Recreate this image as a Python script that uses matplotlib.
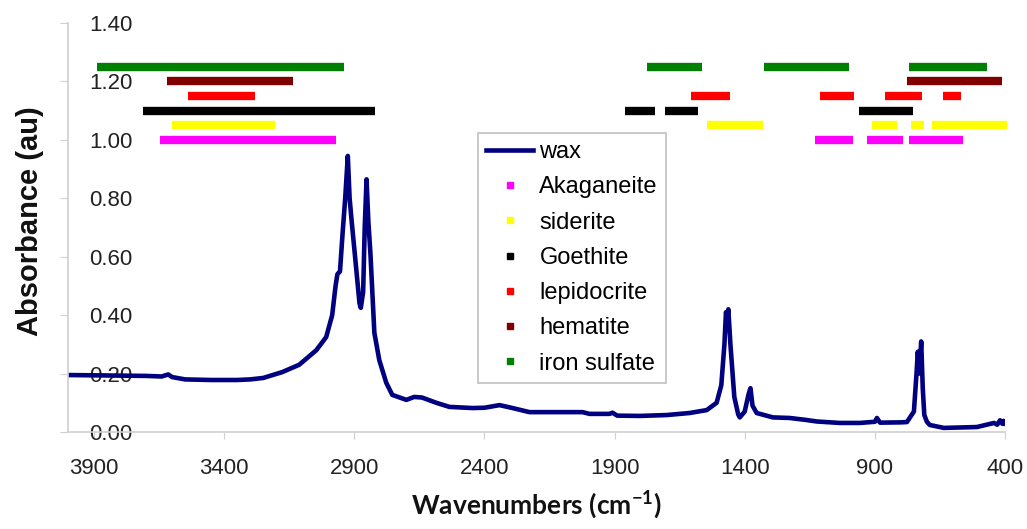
import matplotlib.pyplot as plt
from matplotlib.lines import Line2D
import numpy as np

plt.rcParams['font.family'] = ['Liberation Sans', 'DejaVu Sans']
plt.rcParams['mathtext.fontset'] = 'custom'
plt.rcParams['mathtext.rm'] = 'Lato'
plt.rcParams['mathtext.bf'] = 'Lato:bold'

# wax spectrum (wavenumber, absorbance)
wax_wn = [4000, 3800, 3700, 3640, 3615, 3600, 3550, 3450, 3350, 3300, 3250,
          3177, 3112, 3046, 3008, 2985, 2972, 2965, 2955, 2945, 2935, 2925,
          2918, 2910, 2896, 2880, 2875, 2866, 2860, 2853, 2846, 2838, 2823,
          2804, 2777, 2754, 2700, 2670, 2640, 2585, 2535, 2446, 2400, 2342,
          2292, 2227, 2100, 2023, 1996, 1920, 1908, 1890, 1804, 1700, 1612,
          1546, 1508, 1490, 1478, 1472, 1468, 1463, 1455, 1440, 1425, 1419,
          1400, 1385, 1378, 1370, 1354, 1292, 1227, 1162, 1123, 1035, 958,
          900, 892, 880, 800, 777, 750, 740, 735, 729, 722, 716, 710, 700,
          689, 635, 508, 442, 430, 419, 410, 405, 400]
wax_abs = [0.195, 0.193, 0.192, 0.190, 0.197, 0.188, 0.180, 0.178, 0.178, 0.180, 0.185,
           0.205, 0.23, 0.28, 0.325, 0.40, 0.50, 0.54, 0.55, 0.68, 0.80, 0.945,
           0.80, 0.72, 0.59, 0.44, 0.425, 0.48, 0.70, 0.865, 0.72, 0.61, 0.34,
           0.246, 0.168, 0.127, 0.11, 0.12, 0.118, 0.10, 0.086, 0.082, 0.083, 0.092,
           0.082, 0.068, 0.068, 0.068, 0.062, 0.062, 0.066, 0.056, 0.055, 0.058, 0.065,
           0.075, 0.10, 0.16, 0.30, 0.41, 0.39, 0.42, 0.30, 0.12, 0.06, 0.05,
           0.07, 0.13, 0.15, 0.09, 0.065, 0.05, 0.048, 0.041, 0.036, 0.031, 0.031,
           0.035, 0.048, 0.032, 0.033, 0.034, 0.07, 0.20, 0.275, 0.20, 0.31, 0.15, 0.058, 0.035,
           0.024, 0.014, 0.017, 0.031, 0.025, 0.04, 0.028, 0.038, 0.03]

# band ranges of the corrosion products (from, to in cm-1)
akaganeite = [(3646, 2969), (1130, 985), (930, 790), (770, 560)]
siderite = [(3600, 3204), (1545, 1330), (910, 815), (760, 710), (680, 392)]
goethite = [(3712, 2819), (1860, 1745), (1705, 1580), (960, 755)]
lepidocrite = [(3538, 3281), (1605, 1455), (1110, 980), (860, 720), (640, 570)]
hematite = [(3619, 3135), (775, 410)]
iron_sulfate = [(3890, 2940), (1775, 1565), (1325, 1000), (770, 470)]

names = ['Akaganeite', 'siderite', 'Goethite', 'lepidocrite', 'hematite', 'iron sulfate']
bands = [akaganeite, siderite, goethite, lepidocrite, hematite, iron_sulfate]
levels = [1.00, 1.05, 1.10, 1.15, 1.20, 1.25]
colors = ['#ff00ff', '#ffff00', '#000000', '#ff0000', '#800000', '#008000']

fig = plt.figure(figsize=(10.27, 5.29), dpi=100)
ax = fig.add_axes([68/1027, 1-432/529, (1005-68)/1027, (432-23)/529])

for rngs, lev, c in zip(bands, levels, colors):
    for a, b in rngs:
        ax.plot([a, b], [lev, lev], color=c, lw=6, solid_capstyle='butt', clip_on=False)

ax.plot(wax_wn, wax_abs, color='#000080', lw=3.3, solid_joinstyle='round')

ax.set_xlim(4000, 400)
ax.set_ylim(0, 1.4)
ax.set_xticks(np.arange(3900, 399, -500))
ax.set_yticks(np.arange(0, 1.41, 0.2))
ax.set_yticklabels(['%.2f' % v for v in np.arange(0, 1.41, 0.2)])

for s in ['top', 'right']:
    ax.spines[s].set_visible(False)
for s in ['left', 'bottom']:
    ax.spines[s].set_color('#d0d0d0')
    ax.spines[s].set_linewidth(1.2)

ax.tick_params(axis='y', direction='out', length=5.8, color='#d0d0d0',
               labelsize=16, labelcolor='#222222', pad=-52)
ax.tick_params(axis='x', direction='out', length=5, color='#d0d0d0',
               labelsize=16, labelcolor='#222222', pad=14)

fig.text(30/1027, 1-221/529, 'Absorbance (au)', rotation=90, ha='center', va='center',
         fontsize=21, fontweight='bold', color='#111111')
fig.text(536/1027, 1-505/529, r'Wavenumbers (cm$^{\mathbf{-1}}$)', ha='center', va='center',
         fontsize=19, fontweight='bold', color='#111111', family='Lato')

handles = [Line2D([], [], color='#000080', lw=3.3)]
for c in colors:
    handles.append(Line2D([], [], marker='s', linestyle='none', color=c, markersize=5))
leg = ax.legend(handles, ['wax'] + names, loc='upper left',
                bbox_to_anchor=((478-68)/937, (432-133)/409), borderaxespad=0,
                fontsize=17, fancybox=False, framealpha=1, edgecolor='#c0c0c0',
                handlelength=2.0, handletextpad=0.25, labelspacing=0.56, borderpad=0.35)
leg.get_frame().set_linewidth(1.2)

plt.savefig('out.png', dpi=100)
